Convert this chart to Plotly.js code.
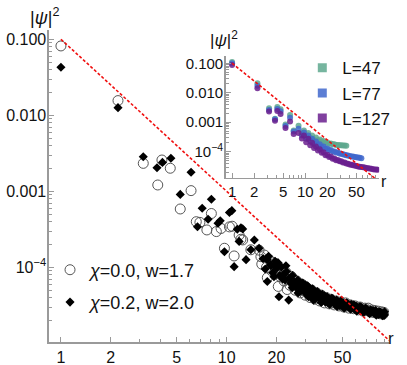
<!DOCTYPE html>
<html lang="en">
  <head>
    <meta charset="UTF-8" />
    <title>psi decay</title>
    <script src="https://cdn.plot.ly/plotly-3.0.1.min.js"></script>
    <style>
      body { margin: 0; background: #fff; }
    </style>
  </head>
  <body>
    <div id="myDiv" style="width:407px;height:365px;"></div>
    <script>
      // main panel, chi = 0.0, w = 1.7 (open circles)
      var rChi0 = [1, 2.21, 3.14, 3.84, 4.07, 4.57, 5.25, 6.1, 6.56, 6.9, 7.6, 8.09, 8.67, 9.26, 9.7,
        10.4, 10.8, 11.1, 11.9, 12.2, 12.5, 14.0, 15.7, 16.1, 17.6, 20.5, 23.2,
        16.3, 16.9, 17.4, 18.1, 18.7, 19.2, 19.9, 20.4, 21.1, 21.6, 22.2, 22.8, 23.5, 24.1, 24.6,
        25.3, 25.9, 26.5, 27.2, 27.8, 28.4, 29.1, 29.8, 30.4, 31.1, 31.9, 32.6, 33.4, 34.1, 34.9,
        35.7, 36.5, 37.3, 38.2, 39.0, 39.9, 40.8, 41.7, 42.6, 43.6, 44.6, 45.6, 46.6, 47.7, 48.8,
        49.9, 51.0, 52.2, 53.4, 54.6, 55.8, 57.1, 58.4, 59.7, 61.1, 62.5, 63.9, 65.4, 66.9, 68.4,
        70.0, 71.6, 73.2, 74.9, 76.6, 78.4, 80.2, 82.0, 83.9, 85.8, 87.8, 89.0];
      var psiChi0 = [0.0817, 0.0156, 0.00233, 0.00121, 0.00258, 0.00201, 0.000585, 0.00102, 0.000398,
        0.00039, 0.00031, 0.00051, 0.000295, 0.000324, 0.000178, 0.00034, 0.000347, 0.000141,
        0.000266, 0.000234, 0.000229, 0.00017, 0.000168, 0.000138, 7.3e-5, 5.6e-5, 5.1e-5,
        1.1e-4, 1.45e-4, 1.0e-4, 1.25e-4, 9.0e-5, 1.15e-4, 8.2e-5, 1.05e-4, 7.5e-5, 9.4e-5, 6.6e-5,
        8.6e-5, 7.0e-5, 5.8e-5, 7.6e-5, 6.0e-5, 5.0e-5, 6.6e-5, 5.4e-5, 4.6e-5, 6.0e-5, 4.9e-5,
        4.3e-5, 5.4e-5, 4.6e-5, 4.0e-5, 5.0e-5, 4.3e-5, 3.8e-5, 4.6e-5, 4.0e-5, 3.6e-5, 4.3e-5,
        3.8e-5, 3.4e-5, 4.0e-5, 3.6e-5, 3.3e-5, 3.8e-5, 3.4e-5, 3.2e-5, 3.6e-5, 3.3e-5, 3.1e-5,
        3.5e-5, 3.2e-5, 3.0e-5, 3.4e-5, 3.1e-5, 2.9e-5, 3.2e-5, 3.0e-5, 2.85e-5, 3.1e-5, 2.9e-5,
        2.75e-5, 3.0e-5, 2.8e-5, 2.65e-5, 2.9e-5, 2.7e-5, 2.9e-5, 2.6e-5, 2.75e-5, 2.55e-5, 2.7e-5,
        2.5e-5, 2.65e-5, 2.45e-5, 2.6e-5, 2.4e-5, 2.55e-5];

      // main panel, chi = 0.2, w = 2.0 (filled diamonds)
      var rChi2 = [1, 2.21, 3.14, 3.80, 4.1, 4.61, 5.25, 6.1, 6.67, 7.12, 7.73, 8.09, 8.87, 9.15, 9.7,
        10.4, 10.75, 11.1, 11.6, 11.9, 12.2, 12.5, 13.1, 14.0, 14.7, 15.7, 17.6, 17.6, 18.4, 19.8,
        20.7, 23.7,
        16.6, 17.1, 17.9, 18.5, 19.0, 19.6, 20.1, 20.9, 21.4, 22.0, 22.5, 23.0, 23.8, 24.4, 25.0,
        25.6, 26.2, 26.9, 27.5, 28.1, 28.8, 29.5, 30.1, 30.8, 31.5, 32.2, 33.0, 33.8, 34.5, 35.3,
        36.1, 36.9, 37.8, 38.6, 39.5, 40.4, 41.3, 42.2, 43.1, 44.1, 45.1, 46.1, 47.2, 48.3, 49.4,
        50.5, 51.6, 52.8, 54.0, 55.2, 56.5, 57.8, 59.1, 60.4, 61.8, 63.2, 64.7, 66.2, 67.7, 69.2,
        70.8, 72.4, 74.1, 75.8, 77.5, 79.3, 81.1, 82.9, 84.8, 86.8, 88.6, 89.5,
        19.3, 20.4, 21.8, 22.8, 24.9, 27.0, 29.9, 31.2, 33.5, 35.8, 37.2, 39.0, 41.8, 43.7, 46.5,
        48.9, 51.2, 53.5, 56.0, 58.6, 61.0, 63.8, 66.9, 69.9, 73.0, 76.5, 80.0, 83.5, 87.5, 89.8];
      var psiChi2 = [0.0428, 0.0126, 0.00285, 0.00204, 0.0024, 0.00272, 0.00091, 0.00178, 0.000342,
        0.000597, 0.000428, 0.000785, 0.00038, 0.00041, 0.00016, 0.000525, 0.000556, 0.000102,
        0.000316, 0.000219, 0.000331, 0.00032, 0.000126, 0.00017, 0.000229, 0.000178, 0.000126,
        6.5e-5, 0.000107, 0.0001, 4.1e-5, 3.7e-5,
        1.3e-4, 9.5e-5, 1.4e-4, 1.05e-4, 8.5e-5, 1.2e-4, 9.8e-5, 7.8e-5, 1.0e-4, 8.0e-5, 6.8e-5,
        8.8e-5, 7.2e-5, 6.2e-5, 7.8e-5, 6.4e-5, 5.5e-5, 6.8e-5, 5.7e-5, 4.9e-5, 6.2e-5, 5.2e-5,
        4.5e-5, 5.7e-5, 4.8e-5, 4.2e-5, 5.2e-5, 4.5e-5, 3.9e-5, 4.8e-5, 4.1e-5, 3.7e-5, 4.4e-5,
        3.9e-5, 3.5e-5, 4.1e-5, 3.7e-5, 3.4e-5, 3.9e-5, 3.5e-5, 3.25e-5, 3.7e-5, 3.35e-5, 3.15e-5,
        3.55e-5, 3.25e-5, 3.05e-5, 3.4e-5, 3.1e-5, 2.95e-5, 3.25e-5, 3.0e-5, 2.8e-5, 3.1e-5, 2.9e-5,
        2.75e-5, 3.0e-5, 2.8e-5, 2.65e-5, 2.9e-5, 2.7e-5, 2.55e-5, 2.75e-5, 2.6e-5, 2.5e-5, 2.7e-5,
        2.5e-5, 2.4e-5, 2.55e-5, 2.4e-5, 2.5e-5, 2.35e-5,
        7.5e-5, 1.15e-4, 7.0e-5, 1.05e-4, 5.4e-5, 4.6e-5, 5.9e-5, 4.1e-5, 3.7e-5, 4.4e-5, 3.45e-5,
        4.2e-5, 3.25e-5, 3.85e-5, 3.05e-5, 3.6e-5, 2.9e-5, 3.35e-5, 2.8e-5, 3.2e-5, 2.65e-5,
        3.05e-5, 2.55e-5, 2.8e-5, 2.45e-5, 2.7e-5, 2.35e-5, 2.6e-5, 2.3e-5, 2.6e-5];

      // inset, three system sizes share the r grid
      var rInset = [1, 2.22, 3.2, 3.86, 4.15, 4.6, 5.37, 6.2, 6.95, 8.1, 9.0, 9.6, 10.3, 11.0, 11.7,
        12.4, 13.2, 14.0, 14.9, 15.8, 16.8, 17.8, 18.9, 20.0, 21.2, 22.4, 23.7, 25.0, 26.4, 27.9,
        29.4, 31.0, 32.7, 34.5, 36.4, 38.4, 40.5, 42.7, 45.0, 47.4, 50.0, 52.7, 55.5, 58.5, 61.7,
        65.0, 68.5, 72.2, 76.1, 80.2, 84.5, 89.0, 93.7, 98.0];
      var psiL47 = [0.11, 0.021, 0.003, 0.00132, 0.0033, 0.00275, 0.00083, 0.00174, 0.000525, 0.00076,
        4.2e-4, 5.25e-4, 3.4e-4, 4.3e-4, 2.95e-4, 3.55e-4, 2.6e-4, 3.0e-4, 2.4e-4, 2.6e-4, 2.2e-4,
        2.3e-4, 2.0e-4, 2.05e-4, 1.86e-4, 1.9e-4, 1.78e-4, 1.78e-4, 1.7e-4, 1.7e-4, 1.66e-4,
        1.66e-4, 1.62e-4, 1.62e-4, 1.58e-4];
      var psiL77 = [0.1, 0.0174, 0.0026, 0.00126, 0.0028, 0.00234, 0.00074, 0.00141, 0.00048, 0.0006,
        3.55e-4, 4.5e-4, 2.75e-4, 3.55e-4, 2.3e-4, 2.75e-4, 1.9e-4, 2.2e-4, 1.66e-4, 1.78e-4,
        1.45e-4, 1.5e-4, 1.26e-4, 1.29e-4, 1.12e-4, 1.15e-4, 1.02e-4, 1.02e-4, 9.3e-5, 9.3e-5,
        8.7e-5, 8.5e-5, 8.1e-5, 7.9e-5, 7.6e-5, 7.4e-5, 7.1e-5, 6.9e-5, 6.8e-5, 6.6e-5, 6.5e-5,
        6.3e-5, 6.2e-5, 6.0e-5];
      var psiL127 = [0.087, 0.0141, 0.0023, 0.00112, 0.0024, 0.0019, 0.00063, 0.00105, 0.0004, 0.00043,
        2.82e-4, 3.55e-4, 2.09e-4, 2.75e-4, 1.66e-4, 2.0e-4, 1.32e-4, 1.51e-4, 1.1e-4, 1.2e-4,
        9.1e-5, 9.5e-5, 7.6e-5, 7.9e-5, 6.6e-5, 6.8e-5, 5.75e-5, 5.9e-5, 5.1e-5, 5.25e-5, 4.7e-5,
        4.7e-5, 4.25e-5, 4.3e-5, 4.0e-5, 3.9e-5, 3.7e-5, 3.6e-5, 3.45e-5, 3.4e-5, 3.25e-5,
        3.15e-5, 3.1e-5, 3.0e-5, 2.95e-5, 2.9e-5, 2.8e-5, 2.75e-5, 2.7e-5, 2.65e-5, 2.55e-5,
        2.5e-5, 2.5e-5, 2.45e-5];

      // red guide line |psi|^2 ~ 0.1 r^-2
      var guideR = [1, 100];
      var guidePsi = [0.1, 0.00001];

      var xTicks = [1, 2, 5, 10, 20, 50];
      var xTickText = ["1", "2", "5", "10", "20", "50"];
      var xMinor = [3, 4, 6, 7, 8, 9, 30, 40, 60, 70, 80, 90];
      var yTicks = [0.1, 0.01, 0.001, 0.0001];
      var yTickText = ["0.100", "0.010", "0.001", "10<sup>−4</sup>"];
      var yMinor = [0.09, 0.08, 0.07, 0.06, 0.05, 0.04, 0.03, 0.02,
        0.009, 0.008, 0.007, 0.006, 0.005, 0.004, 0.003, 0.002,
        0.0009, 0.0008, 0.0007, 0.0006, 0.0005, 0.0004, 0.0003, 0.0002,
        0.00009, 0.00008, 0.00007, 0.00006, 0.00005, 0.00004, 0.00003, 0.00002];

      var font = "Liberation Sans, Arial, sans-serif";
      var axisGray = "#9a9a9a";
      var insetColors = ["#5ea88e", "#3f67cc", "#6a1f8e"];

      var data = [
        { x: rChi0, y: psiChi0, mode: "markers", name: "<i>χ</i>=0.0, w=1.7", legendgroup: "a",
          marker: { symbol: "circle-open", size: 10, color: "#555", line: { width: 1 } } },
        { x: rChi2, y: psiChi2, mode: "markers", name: "<i>χ</i>=0.2, w=2.0", legendgroup: "b",
          marker: { symbol: "diamond", size: 7, color: "#000" } },
        { x: guideR, y: guidePsi, mode: "lines", showlegend: false,
          line: { color: "#f01010", width: 1.6, dash: "3px,2px" } },
      ];

      var insetSets = [psiL47, psiL77, psiL127];
      var insetNames = ["L=47", "L=77", "L=127"];
      insetSets.forEach(function (vals, i) {
        data.push({ x: rInset.slice(0, vals.length), y: vals, mode: "markers", xaxis: "x2", yaxis: "y2",
          showlegend: false, marker: { symbol: "circle", size: 6, color: insetColors[i], opacity: 0.85 } });
      });
      // square swatches for the inset legend
      insetNames.forEach(function (nm, i) {
        data.push({ x: [null], y: [null], mode: "markers", xaxis: "x2", yaxis: "y2", name: nm,
          legend: "legend2", legendgroup: "L" + i,
          marker: { symbol: "square", size: 9, color: insetColors[i], opacity: 0.85 } });
      });
      data.push({ x: guideR, y: guidePsi, mode: "lines", xaxis: "x2", yaxis: "y2", showlegend: false,
        line: { color: "#f01010", width: 1.6, dash: "3px,2px" } });

      function logAxis(range, tv, tt, minor, extra) {
        return Object.assign({
          type: "log", range: range, showline: true, linecolor: axisGray, linewidth: 1.6,
          ticks: "inside", ticklen: 5, tickwidth: 1, tickcolor: axisGray,
          tickmode: "array", tickvals: tv, ticktext: tt, showgrid: false, zeroline: false,
          tickfont: { family: font, size: 16, color: "#111" },
          minor: { tickmode: "array", tickvals: minor, ticks: "inside", ticklen: 3, tickcolor: axisGray, showgrid: false },
        }, extra);
      }

      var layout = {
        width: 407, height: 365,
        margin: { l: 49, r: 14, t: 30, b: 23 },
        paper_bgcolor: "#fff", plot_bgcolor: "rgba(0,0,0,0)",
        font: { family: font, color: "#111" },
        xaxis: logAxis([-0.072, 1.98], xTicks, xTickText, xMinor, {}),
        yaxis: logAxis([-4.983, -0.878], yTicks, yTickText, yMinor, { ticklabelstandoff: -2 }),
        xaxis2: logAxis([-0.086, 2.01], xTicks, xTickText, xMinor, { domain: [0.52, 0.971], anchor: "y2",
          tickfont: { family: font, size: 15, color: "#111" } }),
        yaxis2: logAxis([-4.89, -0.75], yTicks, yTickText, yMinor, { domain: [0.526, 0.917], anchor: "x2",
          tickfont: { family: font, size: 15, color: "#111" }, ticklabelstandoff: -2 }),
        legend: { x: 0.003, y: 0.29, xanchor: "left", yanchor: "top", bgcolor: "rgba(0,0,0,0)",
          font: { family: font, size: 18, color: "#111" }, tracegroupgap: 6, itemsizing: "trace" },
        legend2: { x: 0.745, y: 0.935, xanchor: "left", yanchor: "top", bgcolor: "rgba(0,0,0,0)",
          font: { family: font, size: 17, color: "#111" }, tracegroupgap: 0, itemsizing: "trace" },
        annotations: [
          { text: "|<i>ψ</i>|<sup>2</sup>", xref: "paper", yref: "paper", x: -0.061, y: 1.0,
            xanchor: "left", yanchor: "bottom", showarrow: false, font: { size: 18 } },
          { text: "r", xref: "paper", yref: "paper", x: 1.022, y: -0.025, showarrow: false, font: { size: 17 } },
          { text: "|<i>ψ</i>|<sup>2</sup>", xref: "paper", yref: "paper", x: 0.468, y: 0.93,
            xanchor: "left", yanchor: "bottom", showarrow: false, font: { size: 17 } },
          { text: "r", xref: "paper", yref: "paper", x: 1.0, y: 0.515, showarrow: false, font: { size: 16 } },
        ],
      };

      Plotly.newPlot("myDiv", data, layout, { displayModeBar: false, staticPlot: true });
    </script>
  </body>
</html>
